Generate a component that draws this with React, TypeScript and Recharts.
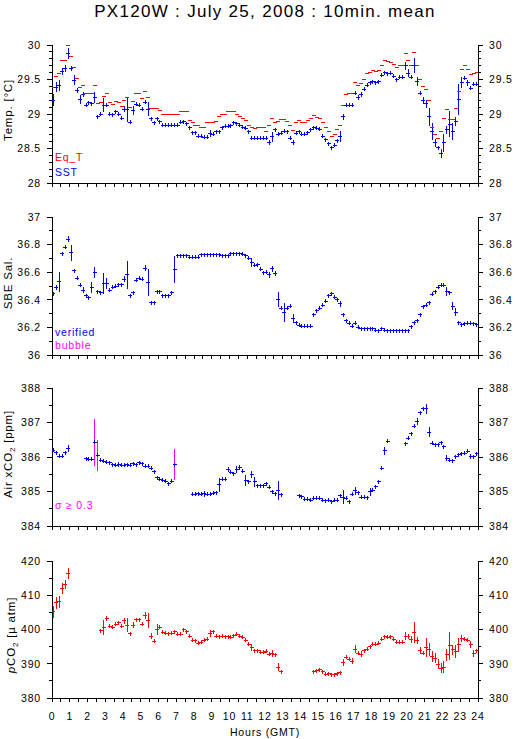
import { ComposedChart, Scatter, XAxis, YAxis, ErrorBar } from 'recharts'

// 10-min bins over the day, index 0..143
const BIN_HOURS = Array.from({ length: 144 }, (_, i) => (i + 0.5) / 6)

const sst = [
  29.2, 29.39, 29.42, 29.61, 29.66, 29.87, 29.66, 29.49, 29.34, 29.21,
  29.28, 29.13, 29.16, 29.15, 29.24, 28.96, 29.0, 29.13, 29.13, 29.0,
  28.99, 29.03, 29.0, 28.94, 29.07, 29.06, 28.88, 29.05, 29.14, 29.13,
  29.07, 29.17, 29.07, 28.93, 28.87, 28.93, 28.89, 28.84, 28.84, 28.84,
  28.84, 28.84, 28.84, 28.88, 28.89, 28.86, 28.8, 28.73, 28.73, 28.68,
  28.68, 28.66, 28.66, 28.72, 28.71, 28.74, 28.74, 28.8, 28.82, 28.82,
  28.83, 28.87, 28.86, 28.84, 28.81, 28.79, 28.74, 28.65, 28.65, 28.65,
  28.65, 28.65, 28.65, 28.59, 28.67, 28.77, 28.71, 28.72, 28.75, 28.74,
  28.65, 28.59, 28.72, 28.74, 28.71, 28.71, 28.73, 28.77, 28.8, 28.79,
  28.78, 28.68, 28.63, 28.57, 28.51, 28.55, 28.61, 28.68, 28.96, 29.13,
  29.13, 29.13, 29.3, 29.24, 29.28, 29.36, 29.42, 29.45, 29.47, 29.45,
  29.47, 29.56, 29.6, 29.58, 29.59, 29.55, 29.5, 29.53, 29.53, 29.7,
  29.59, 29.53, 29.7, 29.47, 29.3, 29.19, 29.15, 28.96, 28.75, 28.58,
  28.51, 28.43, 28.58, 28.77, 28.85, 28.75, 28.89, 29.21, 29.45, 29.52,
  29.45, 29.37, 29.43, 29.43,
]
const sstErr: Record<number, number> = {
  0: 0.09, 1: 0.07, 2: 0.08, 3: 0.05, 4: 0.05, 5: 0.08, 6: 0.03, 7: 0.07, 8: 0.04, 9: 0.06,
  10: 0.04, 14: 0.08, 17: 0.1, 24: 0.04, 25: 0.18, 27: 0.07, 31: 0.03, 32: 0.1, 43: 0.03, 53: 0.05,
  73: 0.04, 74: 0.07, 81: 0.04, 97: 0.08, 98: 0.04, 103: 0.04, 104: 0.04, 119: 0.06, 120: 0.06,
  122: 0.11, 123: 0.06, 125: 0.05, 126: 0.06, 127: 0.13, 128: 0.12, 129: 0.06, 131: 0.07,
  132: 0.13, 133: 0.06, 134: 0.19, 135: 0.12, 136: 0.06, 137: 0.23, 138: 0.08, 139: 0.03, 140: 0.04,
}
const eqT = [
  29.39, 29.54, 29.58, 29.77, 29.77, 29.99, 29.84, 29.68, 29.52, 29.39,
  29.42, 29.29, 29.29, 29.29, 29.42, 29.15, 29.16, 29.25, 29.3, 29.17,
  29.14, 29.18, 29.17, 29.11, 29.2, 29.24, 29.1, 29.18, 29.29, 29.29,
  29.23, 29.32, 29.24, 29.08, 29.08, 29.08, 29.05, 29.0, 29.0, 29.0,
  29.0, 29.0, 29.0, 29.04, 29.04, 29.04, 28.9, 28.88, 28.84, 28.83,
  28.81, 28.81, 28.87, 28.87, 28.87, 28.89, 28.96, 28.99, 29.0, 29.03,
  29.03, 29.03, 29.0, 28.96, 28.94, 28.9, 28.83, 28.8, 28.79, 28.8,
  28.8, 28.8, 28.74, 28.83, 28.93, 28.87, 28.89, 28.92, 28.92, 28.89,
  28.84, 28.76, 28.87, 28.9, 28.87, 28.87, 28.9, 28.93, 28.98, 28.95,
  28.94, 28.87, 28.8, 28.74, 28.67, 28.71, 28.77, 28.84, 29.12, 29.28,
  29.3, 29.3, 29.45, 29.42, 29.44, 29.5, 29.59, 29.6, 29.63, 29.62,
  29.63, 29.71, 29.78, 29.76, 29.74, 29.72, 29.68, 29.7, 29.7, 29.87,
  29.78, 29.7, 29.89, 29.7, 29.5, 29.4, 29.36, 29.2, 28.8, 28.71,
  28.64, 28.74, 28.94, 29.07, 28.92, 28.92, 29.08, 29.32, 29.64, 29.7,
  29.64, 29.57, 29.59, 29.6,
]

const sal = [
  36.445, 36.49, 36.53, 36.735, 36.78, 36.84, 36.74, 36.61, 36.555, 36.505,
  36.47, 36.43, 36.415, 36.49, 36.6, 36.46, 36.45, 36.52, 36.52, 36.47,
  36.49, 36.5, 36.51, 36.51, 36.55, 36.58, 36.43, 36.45, 36.54, 36.555,
  36.55, 36.63, 36.525, 36.38, 36.38, 36.46, 36.46, 36.43, 36.43, 36.43,
  36.45, 36.62, 36.72, 36.72, 36.72, 36.72, 36.71, 36.71, 36.71, 36.71,
  36.725, 36.725, 36.725, 36.725, 36.725, 36.725, 36.725, 36.72, 36.72, 36.72,
  36.735, 36.735, 36.735, 36.735, 36.73, 36.72, 36.7, 36.67, 36.65, 36.655,
  36.62, 36.595, 36.6, 36.58, 36.625, 36.59, 36.405, 36.34, 36.31, 36.34,
  36.355, 36.265, 36.235, 36.215, 36.21, 36.21, 36.21, 36.21, 36.29, 36.32,
  36.34, 36.36, 36.39, 36.43, 36.445, 36.42, 36.4, 36.37, 36.29, 36.25,
  36.23, 36.21, 36.23, 36.2, 36.19, 36.19, 36.19, 36.19, 36.19, 36.18,
  36.175, 36.19, 36.18, 36.175, 36.175, 36.175, 36.175, 36.175, 36.175, 36.175,
  36.175, 36.205, 36.235, 36.25, 36.29, 36.35, 36.36, 36.38, 36.44, 36.46,
  36.49, 36.505, 36.505, 36.46, 36.45, 36.355, 36.31, 36.235, 36.22, 36.225,
  36.23, 36.23, 36.225, 36.22,
]
const salErr: Record<number, number> = {
  0: 0.01, 1: 0.02, 2: 0.07, 5: 0.02, 6: 0.06, 10: 0.02, 13: 0.04, 14: 0.04, 17: 0.075, 18: 0.04,
  24: 0.02, 25: 0.1, 31: 0.02, 32: 0.1, 41: 0.1, 67: 0.03, 73: 0.02, 74: 0.02, 75: 0.02,
  76: 0.055, 78: 0.07, 81: 0.03, 97: 0.02, 133: 0.03, 135: 0.03, 136: 0.03,
}

const xco2: (number | null)[] = [
  386.19, 386.12, 386.02, 386.02, 386.12, 386.24, null, null, null, null,
  null, 385.95, 385.93, 385.93, 386.43, 386.05, 385.91, 385.88, 385.85, 385.83,
  385.78, 385.76, 385.78, 385.76, 385.76, 385.78, 385.76, 385.8, 385.78, 385.83,
  385.81, 385.73, 385.73, 385.67, 385.57, 385.4, 385.35, 385.33, 385.3, 385.22,
  385.3, 385.78, null, null, null, null, null, 384.92, 384.92, 384.93,
  384.92, 384.93, 384.92, 384.92, 384.95, 384.97, 385.2, 385.35, 385.35, 385.64,
  385.56, 385.52, 385.64, 385.69, 385.59, 385.32, 385.28, 385.5, 385.28, 385.16,
  385.16, 385.16, 385.23, 385.12, 385.0, 384.94, 385.02, 384.9, null, null,
  null, null, null, 384.87, 384.85, 384.78, 384.77, 384.75, 384.8, 384.8,
  384.81, 384.75, 384.73, 384.75, 384.71, 384.75, 384.75, 384.87, 384.83, 384.8,
  384.7, 384.92, 385.02, 384.97, 384.84, 384.84, 384.82, 384.99, 385.04, 385.14,
  385.28, 385.67, 386.18, 386.46, null, null, null, null, null, 386.38,
  386.54, 386.67, 386.89, 387.04, 387.28, 387.4, 387.4, 386.72, 386.4, 386.36,
  386.36, 386.41, 386.3, 385.97, 385.91, 385.89, 386.01, 386.07, 386.09, 386.11,
  386.17, 386.01, 386.01, 386.09,
]
const xco2Err: Record<number, number> = {
  5: 0.1, 14: 0.68, 15: 0.45, 22: 0.08, 41: 0.44, 51: 0.08, 56: 0.2, 59: 0.08, 62: 0.1, 63: 0.08,
  65: 0.15, 67: 0.1, 68: 0.15, 76: 0.28, 98: 0.2, 102: 0.12, 107: 0.12, 112: 0.12, 123: 0.1,
  126: 0.15, 127: 0.15, 133: 0.08, 141: 0.08,
}
const SIGMA_FLAG = 0.3

const pco2: (number | null)[] = [
  405.2, 407.8, 408.1, 412.0, 413.2, 416.3, null, null, null, null,
  null, null, null, null, null, null, 399.6, 400.6, 403.2, 401.0,
  400.6, 401.6, 402.0, 401.0, 402.5, 401.3, 398.7, 401.3, 402.8, 402.8,
  401.6, 404.2, 402.6, 398.1, 396.5, 399.9, 400.6, 399.2, 398.9, 398.7,
  398.9, 399.4, 398.6, 398.6, 399.9, 399.4, 398.1, 396.9, 396.7, 396.0,
  396.3, 396.8, 397.1, 398.9, 399.4, 398.1, 397.9, 398.1, 397.9, 397.9,
  397.7, 398.2, 398.6, 398.1, 397.7, 396.9, 395.7, 394.8, 393.8, 393.8,
  393.4, 393.3, 393.6, 392.8, 392.9, 392.6, 389.0, 387.7, null, null,
  null, null, null, null, null, null, null, null, 387.6, 387.9,
  388.2, 387.6, 387.0, 387.1, 386.8, 386.8, 387.1, 387.3, 390.4, 391.9,
  391.3, 390.8, 394.3, 393.1, 392.8, 393.8, 394.3, 395.0, 395.7, 395.7,
  396.0, 397.1, 397.9, 397.7, 397.9, 397.1, 396.3, 396.3, 396.3, 398.1,
  397.9, 397.1, 399.1, 396.9, 393.8, 393.1, 394.8, 394.2, 392.1, 391.6,
  389.9, 388.7, 389.0, 392.6, 395.2, 394.1, 393.6, 395.5, 397.4, 397.1,
  396.8, 395.5, 393.1, 393.8,
]
const pco2Err: Record<number, number> = {
  0: 1.8, 1: 1.7, 2: 1.7, 3: 1.5, 4: 1.3, 5: 1.6, 17: 2.2, 18: 0.8, 24: 1, 25: 2, 27: 1, 31: 1,
  32: 2.2, 33: 1, 35: 1.6, 53: 1, 67: 1, 74: 1, 76: 1.2, 98: 1, 101: 0.8, 102: 1.2, 104: 0.8,
  119: 1.2, 120: 0.8, 121: 1, 122: 3, 123: 1, 124: 1, 126: 2.7, 127: 2, 128: 1.5, 129: 1.5,
  130: 1.5, 131: 1.5, 132: 1.7, 133: 1.8, 134: 4, 135: 1.5, 136: 2, 137: 2, 138: 1, 141: 1, 142: 1,
}

const hourTicks = Array.from({ length: 49 }, (_, i) => i / 2)
const tempMajor = [28, 28.5, 29, 29.5, 30]
const salMajor = [36, 36.2, 36.4, 36.6, 36.8, 37]
const xco2Major = [384, 385, 386, 387, 388]
const pco2Major = [380, 390, 400, 410, 420]

const FONT = '"Liberation Sans", Arial, sans-serif'
const BLUE = '#0000ff'
const RED = '#ff0000'
const MAGENTA = '#ff00ff'

const steps = (a: number, b: number, s: number) =>
  Array.from({ length: Math.round((b - a) / s) + 1 }, (_, i) => +(a + i * s).toFixed(3))

const rows = (vals: (number | null)[], errs: Record<number, number> = {}) =>
  vals
    .map((v, i) => ({ h: BIN_HOURS[i], v, e: errs[i] ?? 0 }))
    .filter((r) => r.v != null)

const plus = (color: string) => (p: any) => {
  const { cx, cy } = p
  if (cx == null || cy == null) return <g />
  return (
    <g stroke={color} strokeWidth={1} shapeRendering="crispEdges">
      <line x1={cx - 2} x2={cx + 2} y1={cy} y2={cy} />
      <line x1={cx} x2={cx} y1={cy - 2} y2={cy + 2} />
    </g>
  )
}

const dash = (color: string) => (p: any) => {
  const { cx, cy } = p
  if (cx == null || cy == null) return <g />
  return <line x1={cx - 2} x2={cx + 2} y1={cy} y2={cy} stroke={color} strokeWidth={1} shapeRendering="crispEdges" />
}

const yTick = (side: 'l' | 'r', majors: number[]) => (p: any) => {
  const { x, y, payload } = p
  const v = payload.value
  const major = majors.some((m) => Math.abs(m - v) < 1e-6)
  const dir = side === 'l' ? -1 : 1
  return (
    <g>
      <line x1={x} x2={x + dir * (major ? 5 : 3)} y1={y} y2={y} stroke="#000" shapeRendering="crispEdges" />
      {major && (
        <text x={x + dir * 11} y={y} dy="0.36em" textAnchor={side === 'l' ? 'end' : 'start'}
          fontSize={10.5} letterSpacing={0.8} fontFamily={FONT} fill="#000">
          {String(v)}
        </text>
      )}
    </g>
  )
}

const xTick = (pos: 'top' | 'bottom', labels: boolean) => (p: any) => {
  const { x, y, payload } = p
  const dir = pos === 'top' ? -1 : 1
  const isInt = Number.isInteger(payload.value)
  return (
    <g>
      <line x1={x} x2={x} y1={y} y2={y + dir * 4} stroke="#000" shapeRendering="crispEdges" />
      {labels && isInt && (
        <text x={x} y={y + 22} textAnchor="middle" fontSize={10.5} letterSpacing={0.8} fontFamily={FONT} fill="#000">
          {payload.value}
        </text>
      )}
    </g>
  )
}

type PanelProps = {
  top: number
  plotH: number
  bottom: number
  domain: [number, number]
  step: number
  majors: number[]
  hourLabels?: boolean
  children: React.ReactNode
}

function Panel({ top, plotH, bottom, domain, step, majors, hourLabels = false, children }: PanelProps) {
  const yTicks = steps(domain[0], domain[1], step)
  const axisLine = { stroke: '#000', strokeWidth: 1, shapeRendering: 'crispEdges' } as any
  return (
    <div style={{ position: 'absolute', left: 0, top: top - 15 }}>
      <ComposedChart width={515} height={15 + plotH + bottom} margin={{ top: 15, right: 0, bottom: 0, left: 0 }}>
        <XAxis xAxisId="b" dataKey="h" type="number" domain={[0, 24]} ticks={hourTicks} interval={0}
          height={bottom} tickSize={0} tickMargin={0} tickLine={false} axisLine={axisLine}
          tick={xTick('bottom', hourLabels)} allowDataOverflow />
        <XAxis xAxisId="t" dataKey="h" type="number" orientation="top" domain={[0, 24]} ticks={hourTicks}
          interval={0} height={0} tickSize={0} tickMargin={0} tickLine={false} axisLine={axisLine}
          tick={xTick('top', false)} allowDataOverflow />
        <YAxis yAxisId="l" type="number" domain={domain} ticks={yTicks} interval={0} width={52}
          tickSize={0} tickMargin={0} tickLine={false} axisLine={axisLine} tick={yTick('l', majors)} allowDataOverflow />
        <YAxis yAxisId="r" orientation="right" type="number" domain={domain} ticks={yTicks} interval={0} width={37}
          tickSize={0} tickMargin={0} tickLine={false} axisLine={axisLine} tick={yTick('r', majors)} allowDataOverflow />
        {children}
      </ComposedChart>
    </div>
  )
}

const errBar = (color: string) => (
  <ErrorBar dataKey="e" direction="y" width={0} stroke={color} strokeWidth={1}
    shapeRendering="crispEdges" isAnimationActive={false} />
)

export default function App() {
  const xco2Rows = rows(xco2, xco2Err)
  const txt = { fontFamily: FONT, fontSize: 10.5, letterSpacing: 0.8 }
  const lab = { fontFamily: FONT, fontSize: 11.5, letterSpacing: 0.8 }
  return (
    <div style={{ position: 'absolute', left: 0, top: 0, width: 515, height: 739, background: '#fff' }}>
      <Panel top={45} plotH={138} bottom={10} domain={[28, 30]} step={0.1} majors={tempMajor}>
        <Scatter xAxisId="b" yAxisId="l" data={rows(eqT)} dataKey="v" shape={dash(RED)} isAnimationActive={false} />
        <Scatter xAxisId="b" yAxisId="l" data={rows(sst, sstErr)} dataKey="v" shape={plus(BLUE)} isAnimationActive={false}>
          {errBar(BLUE)}
        </Scatter>
      </Panel>
      <Panel top={217} plotH={138} bottom={10} domain={[36, 37]} step={0.1} majors={salMajor}>
        <Scatter xAxisId="b" yAxisId="l" data={rows(sal, salErr)} dataKey="v" shape={plus(BLUE)} isAnimationActive={false}>
          {errBar(BLUE)}
        </Scatter>
      </Panel>
      <Panel top={388} plotH={138} bottom={10} domain={[384, 388]} step={0.5} majors={xco2Major}>
        <Scatter xAxisId="b" yAxisId="l" data={xco2Rows.filter((r) => r.e < SIGMA_FLAG)} dataKey="v"
          shape={plus(BLUE)} isAnimationActive={false}>
          {errBar(BLUE)}
        </Scatter>
        <Scatter xAxisId="b" yAxisId="l" data={xco2Rows.filter((r) => r.e >= SIGMA_FLAG)} dataKey="v"
          shape={plus(BLUE)} isAnimationActive={false}>
          {errBar(MAGENTA)}
        </Scatter>
      </Panel>
      <Panel top={561} plotH={137} bottom={41} domain={[380, 420]} step={5} majors={pco2Major} hourLabels>
        <Scatter xAxisId="b" yAxisId="l" data={rows(pco2, pco2Err)} dataKey="v" shape={plus(RED)} isAnimationActive={false}>
          {errBar(RED)}
        </Scatter>
      </Panel>

      <svg width={515} height={739} style={{ position: 'absolute', left: 0, top: 0, pointerEvents: 'none' }}>
        <text x={265} y={17} textAnchor="middle" fontFamily={FONT} fontSize={17} letterSpacing={1.3}>
          PX120W : July 25, 2008 : 10min. mean
        </text>
        <text transform="translate(8,110) rotate(-90)" textAnchor="middle" dy="0.35em" {...lab}>Temp. [°C]</text>
        <text transform="translate(8,283) rotate(-90)" textAnchor="middle" dy="0.35em" {...lab}>SBE Sal.</text>
        <text transform="translate(8,454) rotate(-90)" textAnchor="middle" dy="0.35em" {...lab}>
          Air xCO<tspan fontSize={8} dy={3}>2</tspan><tspan dy={-3}> [ppm]</tspan>
        </text>
        <text transform="translate(11,635) rotate(-90)" textAnchor="middle" dy="0.35em" {...lab}>
          <tspan fontStyle="italic">p</tspan>CO<tspan fontSize={8} dy={3}>2</tspan><tspan dy={-3}> [µ atm]</tspan>
        </text>
        <text x={55} y={161} fill={RED} {...txt}>Eq_T</text>
        <text x={55} y={176} fill={BLUE} {...txt}>SST</text>
        <text x={55} y={336} fill={BLUE} {...txt}>verified</text>
        <text x={55} y={349} fill={MAGENTA} {...txt}>bubble</text>
        <text x={55} y={509} fill={MAGENTA} {...txt}>σ ≥ 0.3</text>
        <text x={265} y={736} textAnchor="middle" {...txt}>Hours (GMT)</text>
      </svg>
    </div>
  )
}
